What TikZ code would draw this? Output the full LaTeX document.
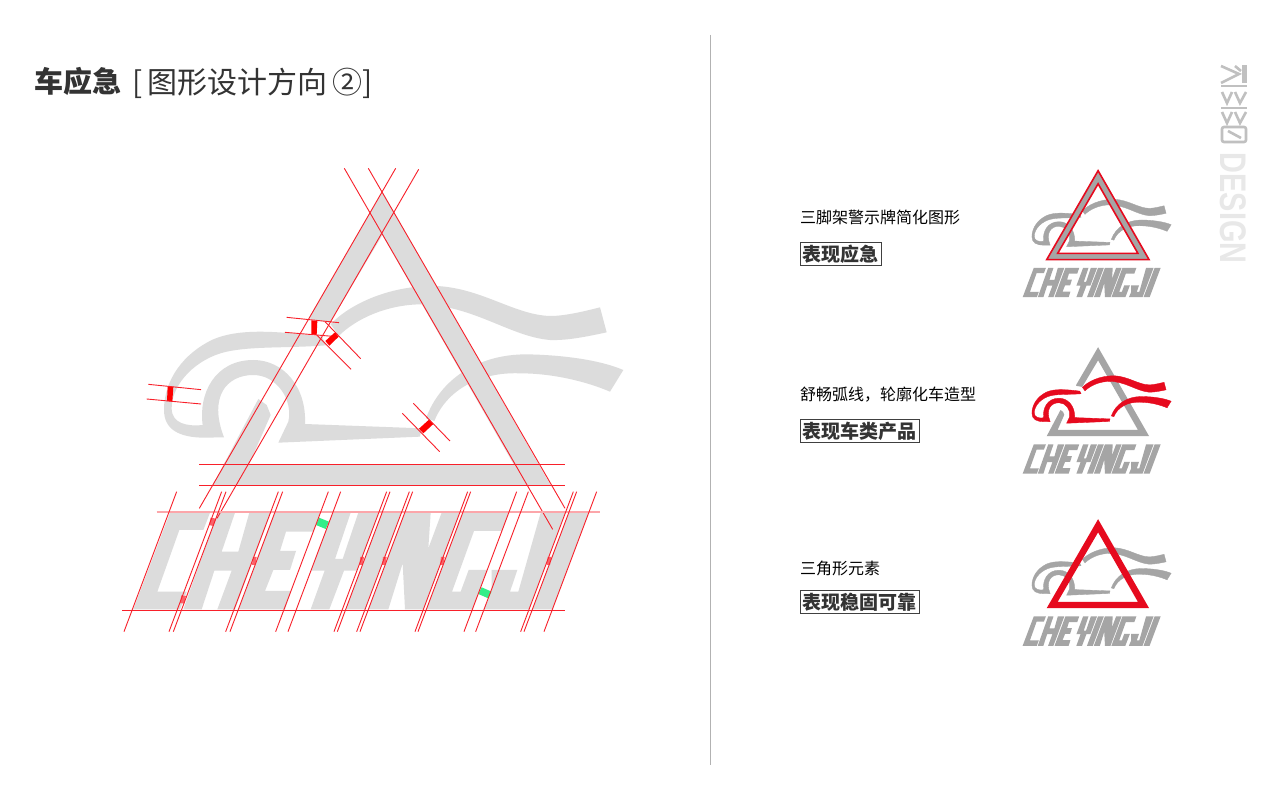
\documentclass[tikz,border=0pt]{standalone}
\usepackage{fontspec}
\setmainfont{Liberation Sans}
\newfontfamily\cjk{Noto Sans CJK SC}
\usetikzlibrary{positioning}

\definecolor{biggray}{HTML}{DCDCDC}
\definecolor{smallgray}{HTML}{A5A5A5}
\definecolor{guidered}{HTML}{F8202A}
\definecolor{markgreen}{HTML}{33EE88}
\definecolor{inkgray}{HTML}{333333}
\definecolor{logored}{HTML}{E60A1E}
\definecolor{markgray}{HTML}{C0C0C0}

\tikzset{
    guide/.style={guidered, line width=0.9pt},
    heading/.style={anchor=west, inner sep=0pt, font=\cjk\fontsize{16}{16}\selectfont, text=black},
    tagbox/.style={anchor=west, draw=black!75, line width=0.8pt, inner sep=2.5pt, font=\cjk\bfseries\fontsize{19}{19}\selectfont, text=inkgray},
    cornerline/.style={markgray, line width=2.6pt},
    heavy/.style={draw=#1, fill=#1, line width=0.35pt}
}

% logo parts, in thirds of a pixel
\newcommand{\logotriangle}[1]{
    \fill[#1] (787,95) -- (1292,976) -- (278,976) -- (415,717) -- (440,735) -- (452,765) -- (387,913)
        -- (1181,913) -- (787,225) -- (630,488) -- (572,478) -- (569,470) -- cycle;
}
\newcommand{\logofulltriangle}[1]{
    \fill[#1, even odd rule] (787,95) -- (1292,976) -- (278,976) -- cycle (787,225) -- (1181,913) -- (387,913) -- cycle;
}
\newcommand{\logocar}[1]{
    \fill[#1] (312,832) -- (250,833) .. controls (180,832) and (132,810) .. (132,750)
        .. controls (132,660) and (190,580) .. (280,538)
        .. controls (350,508) and (450,510) .. (606,530) -- (618,556)
        .. controls (500,565) and (400,558) .. (320,575)
        .. controls (230,595) and (155,670) .. (155,745)
        .. controls (155,790) and (200,800) .. (248,795)
        .. controls (235,700) and (285,600) .. (400,600)
        .. controls (490,600) and (560,680) .. (555,792)
        -- (905,805) -- (900,830) -- (475,848) -- (505,785)
        .. controls (520,720) and (470,645) .. (400,645)
        .. controls (320,645) and (265,710) .. (312,832) -- cycle;
    \fill[#1] (632,493) .. controls (680,440) and (800,375) .. (950,378)
        .. controls (1090,385) and (1190,470) .. (1300,468)
        .. controls (1350,465) and (1400,452) .. (1440,442) -- (1460,517)
        .. controls (1400,530) and (1340,542) .. (1290,540)
        .. controls (1170,530) and (1060,435) .. (900,433)
        .. controls (800,435) and (710,475) .. (657,527) -- cycle;
    \fill[#1] (918,775) .. controls (960,660) and (1070,583) .. (1220,583)
        .. controls (1330,585) and (1440,600) .. (1510,630) -- (1470,695)
        .. controls (1400,665) and (1300,640) .. (1200,640)
        .. controls (1080,635) and (980,690) .. (943,783) -- cycle;
}
\newcommand{\logotext}[1]{
    \begin{scope}[shift={(0,960)}]
        \fill[#1] (150,98) -- (270,98) -- (250,150) -- (178,150) -- (112,335) -- (200,335) -- (180,388) -- (40,388) -- cycle;
        \fill[#1] (293,98) -- (345,98) -- (305,215) -- (355,215) -- (388,98) -- (452,98) -- (345,388) -- (292,388)
            -- (335,272) -- (283,272) -- (245,388) -- (190,388) -- cycle;
        \fill[#1] (463,98) -- (600,98) -- (580,155) -- (498,155) -- (480,213) -- (528,213) -- (510,270) -- (460,270)
            -- (435,333) -- (513,333) -- (495,388) -- (356,388) -- cycle;
        \fill[#1] (638,98) -- (692,98) -- (645,237) -- (668,237) -- (715,98) -- (776,98) -- (711,272) -- (672,272)
            -- (628,388) -- (572,388) -- (614,272) -- (573,272) -- cycle;
        \fill[#1] (786,98) -- (844,98) -- (735,388) -- (677,388) -- cycle;
        \fill[#1] (854,98) -- (932,98) -- (925,205) -- (965,98) -- (1019,98) -- (910,388) -- (855,388) -- (848,250)
            -- (805,388) -- (745,388) -- cycle;
        \fill[#1] (1028,98) -- (1166,98) -- (1146,153) -- (1062,153) -- (996,335) -- (1022,335) -- (1046,270)
            -- (1102,270) -- (1057,388) -- (919,388) -- cycle;
        \fill[#1] (1262,98) -- (1336,98) -- (1227,388) -- (1092,388) -- (1115,335) -- (1115,270) -- (1192,270)
            -- (1170,335) -- (1195,335) -- cycle;
        \fill[#1] (1346,98) -- (1406,98) -- (1297,388) -- (1237,388) -- cycle;
    \end{scope}
}

\begin{document}
\begin{tikzpicture}[x=1pt, y=-1pt]
    \useasboundingbox (0,0) rectangle (1280,800);
    \fill[white] (0,0) rectangle (1280,800);

    % title and divider
    \node[anchor=west, inner sep=0pt, text=inkgray, font=\cjk\bfseries\fontsize{29}{29}\selectfont] (title) at (34,81) {车应急};
    \node[anchor=west, inner sep=0pt, text=inkgray, font=\cjk\fontsize{30}{30}\selectfont] (subtitle) at (132,83) {[\,图形设计方向\,②]};
    \draw[color=black!30, line width=1pt] (710,35) -- (710,765);

    % big logo with construction lines
    \begin{scope}[shift={(120,160)}, scale=1/3]
        \logotriangle{biggray}
        \logocar{biggray}
        \logotext{biggray}

        \fill[guidered!70] (272,1073) -- (288,1076) -- (280,1098) -- (267,1095) -- cycle;
        \fill[guidered!70] (184,1306) -- (198,1308) -- (192,1331) -- (180,1329) -- cycle;
        \foreach \mx in {403,725,793,967,1287}
            \fill[guidered!70, shift={(\mx,1203)}] (-4,-12) -- (7,-12) -- (3,12) -- (-7,12) -- cycle;
        \fill[markgreen] (597,1073) -- (627,1085) -- (617,1107) -- (588,1095) -- cycle;
        \fill[markgreen] (1085,1282) -- (1115,1295) -- (1105,1315) -- (1075,1302) -- cycle;

        \draw[guide] (827,25) -- (238,1045);
        \draw[guide] (896,28) -- (291,1075);
        \draw[guide] (673,25) -- (1298,1108);
        \draw[guide] (745,25) -- (1335,1045);
        \draw[guide] (237,913) -- (1335,913);
        \draw[guide] (237,976) -- (1335,976);
        \draw[guidered!40, line width=1.5pt] (110,1056) -- (1440,1056);
        \draw[guide] (7,1351) -- (1335,1351);
        \foreach \gx in {170,305,318,475,488,625,662,800,810,868,878,1043,1052,1190,1225,1360,1370,1430}
            \draw[guide] (\gx,995) -- ({\gx-158},1415);

        \fill[red] (143,680) -- (160,680) -- (157,725) -- (141,723) -- cycle;
        \draw[guide] (85,673) -- (243,689);
        \draw[guide] (80,717) -- (243,732);
        \fill[red] (574,481) -- (592,483) -- (590,525) -- (574,523) -- cycle;
        \draw[guide] (500,472) -- (657,488);
        \draw[guide] (495,517) -- (650,530);
        \fill[red] (645,517) -- (656,530) -- (628,557) -- (616,543) -- cycle;
        \draw[guide] (615,485) -- (722,596);
        \draw[guide] (590,525) -- (693,628);
        \fill[red] (928,778) -- (940,792) -- (910,820) -- (897,806) -- cycle;
        \draw[guide] (880,730) -- (990,843);
        \draw[guide] (847,760) -- (959,875);
    \end{scope}

    % small logo one
    \node[heading] (tipone) at (800,217) {三脚架警示牌简化图形};
    \node[tagbox] (tagone) at (800,254) {表现应急};
    \begin{scope}[shift={(1018.6,161.1)}, scale=0.101]
        \logocar{heavy=smallgray}
        \logofulltriangle{smallgray}
        \logotext{smallgray}
        \draw[logored, line width=1.6pt] (787,95) -- (1292,976) -- (278,976) -- cycle;
        \draw[logored, line width=1.6pt] (787,225) -- (1181,913) -- (387,913) -- cycle;
    \end{scope}

    % small logo two
    \node[heading] (tiptwo) at (800,395) {舒畅弧线，轮廓化车造型};
    \node[tagbox] (tagtwo) at (800,431) {表现车类产品};
    \begin{scope}[shift={(1018.6,337.6)}, scale=0.101]
        \logotriangle{smallgray}
        \logocar{heavy=logored}
        \logotext{smallgray}
    \end{scope}

    % small logo three
    \node[heading] (tipthree) at (800,568) {三角形元素};
    \node[tagbox] (tagthree) at (800,602) {表现稳固可靠};
    \begin{scope}[shift={(1018.6,509.6)}, scale=0.101]
        \logocar{heavy=smallgray}
        \logofulltriangle{logored}
        \logotext{smallgray}
    \end{scope}

    % corner mark
    \draw[cornerline] (1221,66) -- (1239,74) -- (1221,83);
    \draw[cornerline] (1235,66) -- (1241,71);
    \fill[markgray] (1242,65) rectangle (1247,83);
    \draw[cornerline] (1221,86) -- (1247,86);
    \draw[cornerline] (1222,92) -- (1227,103) -- (1232,92) (1235,92) -- (1240,103) -- (1246,92);
    \draw[cornerline] (1221,108) -- (1247,108);
    \draw[cornerline] (1222,112) -- (1227,123) -- (1232,112) (1235,112) -- (1240,123) -- (1246,112);
    \draw[cornerline, rounded corners=2pt] (1222,127) rectangle (1246,142);
    \draw[cornerline] (1228,131) -- (1241,138);
    \node[rotate=-90, xscale=0.78, transform shape, inner sep=0pt, text=black!9, font=\bfseries\fontsize{37}{37}\selectfont] (brand) at (1233,208) {DESIGN};
\end{tikzpicture}
\end{document}
